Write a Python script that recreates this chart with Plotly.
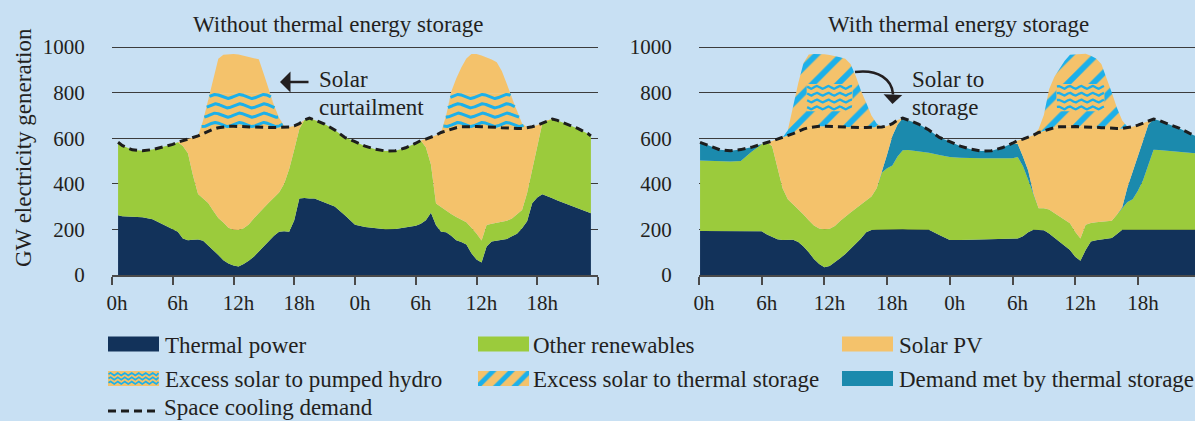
import numpy as np
import plotly.graph_objects as go

# ------------------------------------------------------------------ data (GW)
# hours of the two-day profile at which values were read
hours_a = [0.6, 1, 2, 3, 4, 5, 6,
           6.5, 7, 7.5, 8, 8.5, 9, 9.5, 10, 10.5, 11, 11.5, 12, 12.5, 13, 13.5,
           14, 14.5, 15, 15.5, 16, 16.5, 17, 17.5, 18, 18.5, 19, 19.5,
           20, 21, 22, 23, 24, 25, 26, 27, 28, 29, 30,
           30.5, 31, 31.5, 32, 32.5, 33, 33.5, 34, 34.5, 35, 35.5, 36, 36.5,
           37, 37.5, 38, 38.5, 39, 39.5, 40, 40.5, 41, 41.5, 42, 42.5, 43, 43.5,
           44, 45, 46, 47, 47.3]
hours_b = [0.1, 1, 2, 3, 4, 5, 6,
           6.5, 7, 7.5, 8, 8.5, 9, 9.5, 10, 10.5, 11, 11.5, 12, 12.5, 13, 13.5,
           14, 14.5, 15, 15.5, 16, 16.5, 17, 17.5, 18, 18.5, 19, 19.5,
           20, 21, 22, 23, 24, 25, 26, 27, 28, 29, 30,
           30.5, 31, 31.5, 32, 32.5, 33, 33.5, 34, 34.5, 35, 35.5, 36, 36.5,
           37, 37.5, 38, 38.5, 39, 39.5, 40, 40.5, 41, 41.5, 42, 42.5, 43, 43.5,
           44, 45, 46, 47, 47.5]

demand_gw = [582, 568, 549, 545, 550, 560, 573,
             582, 588, 596, 603, 610, 620, 630, 640, 646, 650, 652, 652, 651, 650, 648,
             647, 647, 647, 647, 647, 647, 647, 649, 654, 664, 680, 688,
             680, 662, 636, 603, 585, 565, 552, 544, 545, 558, 578,
             590, 596, 603, 613, 625, 633, 640, 646, 650, 651, 651, 651, 650,
             650, 649, 648, 646, 644, 643, 643, 643, 645, 650, 657, 666, 678, 684,
             678, 662, 643, 620, 610]

# --- without thermal energy storage
thermal_a = [262, 258, 256, 253, 245, 222, 200,
             190, 160, 152, 155, 156, 150, 130, 110, 88, 65, 50, 42, 37, 48, 62,
             80, 104, 127, 150, 172, 190, 192, 190, 240, 336, 338, 336,
             335, 318, 300, 262, 220, 211, 205, 201, 202, 208, 216,
             225, 240, 273, 218, 190, 188, 172, 152, 145, 134, 95, 68, 55,
             125, 147, 150, 153, 158, 170, 181, 205, 236, 315, 340, 354, 347, 337,
             327, 309, 292, 276, 271]
renew_a = [320, 310, 293, 292, 305, 338, 373,
           392, 406, 382, 281, 199, 185, 186, 172, 162, 165, 157, 157, 160, 157, 160,
           168, 169, 168, 168, 168, 172, 208, 275, 310, 304, 342, 352,
           345, 344, 336, 341, 365, 354, 347, 343, 343, 350, 362,
           365, 320, 212, 96, 108, 94, 96, 102, 98, 97, 112, 114, 96,
           94, 78, 80, 81, 80, 78, 86, 80, 124, 148, 230, 312, 331, 347,
           351, 353, 351, 344, 339]
solar_a = [0, 0, 0, 0, 0, 0, 0,
           0, 22, 62, 167, 255, 285, 314, 358, 396, 420, 445, 453, 454, 445, 426,
           399, 374, 352, 329, 307, 285, 247, 184, 104, 24, 0, 0,
           0, 0, 0, 0, 0, 0, 0, 0, 0, 0, 0,
           0, 36, 118, 299, 327, 351, 372, 392, 407, 420, 444, 469, 499,
           431, 424, 418, 412, 406, 395, 376, 358, 285, 187, 87, 0, 0, 0,
           0, 0, 0, 0, 0]
hydro_a = [0, 0, 0, 0, 0, 0, 0,
           0, 0, 0, 0, 0, 58, 138, 155, 149, 145, 143, 143, 144, 145, 147,
           148, 148, 148, 148, 98, 43, 8, 0, 0, 0, 0, 0,
           0, 0, 0, 0, 0, 0, 0, 0, 0, 0, 0,
           0, 0, 0, 0, 0, 67, 155, 149, 145, 144, 144, 144, 145,
           145, 146, 147, 149, 151, 132, 75, 22, 3, 0, 0, 0, 0, 0,
           0, 0, 0, 0, 0]
curtail_a = [0, 0, 0, 0, 0, 0, 0,
             0, 0, 0, 0, 0, 0, 0, 63, 153, 171, 173, 174, 172, 167, 161,
             156, 151, 85, 15, 0, 0, 0, 0, 0, 0, 0, 0,
             0, 0, 0, 0, 0, 0, 0, 0, 0, 0, 0,
             0, 0, 0, 0, 0, 0, 9, 67, 115, 155, 174, 174, 168,
             160, 150, 138, 100, 43, 0, 0, 0, 0, 0, 0, 0, 0, 0,
             0, 0, 0, 0, 0]

# --- with thermal energy storage
thermal_b = [193, 193, 193, 193, 193, 193, 192,
             178, 166, 157, 154, 154, 155, 145, 125, 100, 70, 48, 34, 40, 55, 73,
             92, 115, 138, 160, 188, 197, 199, 200, 200, 201, 201, 201,
             200, 199, 199, 175, 153, 154, 155, 156, 157, 158, 159,
             160, 170, 188, 198, 198, 196, 182, 163, 146, 128, 110, 80, 62,
             110, 147, 152, 156, 159, 162, 180, 198, 198, 198, 198, 198, 198, 198,
             198, 198, 198, 198, 198]
renew_b = [309, 307, 306, 305, 307, 347, 381,
           404, 399, 313, 226, 178, 155, 144, 140, 140, 147, 156, 167, 163, 160, 164,
           162, 159, 154, 150, 139, 147, 181, 250, 268, 279, 319, 346,
           348, 343, 337, 351, 364, 360, 357, 356, 355, 354, 353,
           358, 308, 230, 153, 95, 97, 105, 109, 112, 115, 117, 110, 98,
           110, 81, 79, 77, 77, 76, 85, 97, 122, 134, 172, 219, 287, 351,
           350, 346, 342, 338, 336]
storage_b = [80, 68, 50, 47, 50, 20, 0,
             0, 0, 0, 0, 0, 0, 0, 0, 0, 0, 0, 0, 0, 0, 0,
             0, 0, 0, 0, 0, 0, 0, 0, 60, 130, 140, 141,
             132, 120, 100, 77, 68, 51, 40, 32, 33, 46, 66,
             57, 42, 40, 8, 0, 0, 0, 0, 0, 0, 0, 0, 0,
             0, 0, 0, 0, 0, 0, 0, 2, 65, 118, 150, 173, 175, 135,
             130, 118, 103, 84, 76]
solar_b = [0, 0, 0, 0, 0, 0, 0,
           0, 23, 126, 223, 278, 310, 341, 375, 406, 433, 448, 451, 448, 435, 411,
           393, 373, 355, 337, 320, 303, 267, 199, 126, 54, 20, 0,
           0, 0, 0, 0, 0, 0, 0, 0, 0, 0, 0,
           15, 76, 145, 254, 332, 340, 353, 374, 392, 408, 424, 461, 490,
           430, 421, 417, 413, 408, 405, 378, 346, 260, 200, 137, 76, 18, 0,
           0, 0, 0, 0, 0]
excess_b = [0, 0, 0, 0, 0, 0, 0,
            0, 0, 0, 0, 25, 125, 212, 290, 321, 319, 318, 316, 314, 311, 307,
            301, 278, 226, 161, 108, 53, 18, 0, 0, 0, 0, 0,
            0, 0, 0, 0, 0, 0, 0, 0, 0, 0, 0,
            0, 0, 0, 0, 15, 69, 175, 222, 255, 289, 315, 317, 319,
            320, 313, 302, 279, 222, 157, 89, 35, 5, 0, 0, 0, 0, 0,
            0, 0, 0, 0, 0]
# pumped-hydro share shown as a block inside the storage peaks (hours, GW)
hydro_block_b_hours = [(10.3, 14.7), (34.2, 38.8)]
hydro_block_b_gw = (718, 838)

tick_hours = [0, 6, 12, 18, 24, 30, 36, 42, 48]
tick_labels = ["0h", "6h", "12h", "18h", "0h", "6h", "12h", "18h", ""]
y_ticks = [0, 200, 400, 600, 800, 1000]

# ------------------------------------------------------------------ style
FIG_W, FIG_H = 1195, 421
BG = "#c8e0f3"
NAVY = "#12325a"
GREEN = "#9bcb3c"
ORANGE = "#f4c26b"
TEAL = "#1b8aad"
CYAN = "#1cb0ea"
INK = "#231f20"
GRID = "#3c3c3c"
AXIS = "#4a4a4a"
FONT = "Liberation Serif"
DASH = "8px,5px"
TXT = 23

PX_PER_GW = 0.228
Y0_PX = 275
Y_MAX = 1010
y_dom = [(FIG_H - Y0_PX) / FIG_H, (FIG_H - (Y0_PX - Y_MAX * PX_PER_GW)) / FIG_H]
xa_dom = [112 / FIG_W, 598 / FIG_W]
xb_dom = [699 / FIG_W, 1.0]
xb_max = (FIG_W - 699) / 10.45

fig = go.Figure()


def area(x, y, color, group, xa, ya, pattern=None):
    fig.add_trace(go.Scatter(
        x=x, y=y, mode="lines", stackgroup=group, line=dict(width=0, color=color),
        fillcolor=color, fillpattern=pattern, xaxis=xa, yaxis=ya,
        showlegend=False, hoverinfo="skip"))


def wave_texture(x_lo, x_hi, levels, amp, period, step):
    """Wavy-line fill texture (decoration only)."""
    xs = np.arange(x_lo, x_hi + step / 2, step)
    return xs, [lvl + amp * np.sin(2 * np.pi * xs / period) for lvl in levels]


def add_waves(xs, ys_list, width, xa, ya, keep=None):
    X, Y = [], []
    for ys in ys_list:
        for xv, yv in zip(xs, ys):
            ok = True if keep is None else keep(xv, yv)
            X.append(float(xv) if ok else None)
            Y.append(float(yv) if ok else None)
        X.append(None)
        Y.append(None)
    fig.add_trace(go.Scatter(x=X, y=Y, mode="lines", line=dict(color=CYAN, width=width),
                             connectgaps=False, xaxis=xa, yaxis=ya, showlegend=False, hoverinfo="skip"))


# ---- left panel: without thermal energy storage
area(hours_a, thermal_a, NAVY, "a", "x", "y")
area(hours_a, renew_a, GREEN, "a", "x", "y")
area(hours_a, solar_a, ORANGE, "a", "x", "y")
area(hours_a, hydro_a, ORANGE, "a", "x", "y")
area(hours_a, curtail_a, ORANGE, "a", "x", "y")

top_a = np.sum([thermal_a, renew_a, solar_a, hydro_a, curtail_a], axis=0)
exc_a = np.array(hydro_a) + np.array(curtail_a)
xs, ys = wave_texture(0, 48, [660, 701, 742, 783], 9, 2.4, 0.03)
add_waves(xs, ys, 3, "x", "y",
          keep=lambda xv, yv: np.interp(xv, hours_a, exc_a) > 1 and yv < np.interp(xv, hours_a, top_a) - 3)

fig.add_trace(go.Scatter(x=hours_a, y=demand_gw, mode="lines",
                         line=dict(color="#1d1d1d", width=3, dash=DASH),
                         xaxis="x", yaxis="y", showlegend=False, hoverinfo="skip"))

# ---- right panel: with thermal energy storage
area(hours_b, thermal_b, NAVY, "b", "x2", "y2")
area(hours_b, renew_b, GREEN, "b", "x2", "y2")
area(hours_b, storage_b, TEAL, "b", "x2", "y2")
area(hours_b, solar_b, ORANGE, "b", "x2", "y2")
area(hours_b, excess_b, ORANGE, "b", "x2", "y2",
     pattern=dict(shape="/", fgcolor=CYAN, bgcolor=ORANGE, size=18, solidity=0.32, fillmode="replace"))

lo, hi = hydro_block_b_gw
for (h0, h1) in hydro_block_b_hours:
    fig.add_trace(go.Scatter(x=[h0, h1, h1, h0, h0], y=[lo, lo, hi, hi, lo], mode="lines",
                             fill="toself", fillcolor=ORANGE, line=dict(width=0),
                             xaxis="x2", yaxis="y2", showlegend=False, hoverinfo="skip"))
    gap = (hi - lo) / 4
    xs, ys = wave_texture(h0 + 0.05, h1 - 0.05, [lo + gap * (k + 0.5) for k in range(4)], 6, 1.1, 0.03)
    add_waves(xs, ys, 2.3, "x2", "y2")

fig.add_trace(go.Scatter(x=hours_b, y=demand_gw, mode="lines",
                         line=dict(color="#1d1d1d", width=3, dash=DASH),
                         xaxis="x2", yaxis="y2", showlegend=False, hoverinfo="skip"))

# ---- custom legend (drawn on a pixel-mapped helper axis)
SW_W, SW_H = 51, 15
col_x = [108, 478, 842]
text_x = [163, 531, 897]
row_y = [344, 378.5, 411]
legend_rows = [
    [("Thermal power", NAVY), ("Other renewables", GREEN), ("Solar PV", ORANGE)],
    [("Excess solar to pumped hydro", "waves"), ("Excess solar to thermal storage", "stripes"),
     ("Demand met by thermal storage", TEAL)],
    [("Space cooling demand", "dash")],
]
shapes = []
annotations = []
for r, row in enumerate(legend_rows):
    for c, (label_text, kind) in enumerate(row):
        x0, yc = col_x[c], row_y[r]
        y0, y1 = yc - SW_H / 2, yc + SW_H / 2
        if kind == "dash":
            shapes.append(dict(type="line", xref="x3", yref="y3", x0=x0, x1=x0 + SW_W + 1, y0=yc, y1=yc,
                               line=dict(color="#1d1d1d", width=3, dash=DASH)))
        elif kind in ("waves", "stripes"):
            pat = None
            if kind == "stripes":
                pat = dict(shape="/", fgcolor=CYAN, bgcolor=ORANGE, size=13, solidity=0.38, fillmode="replace")
            fig.add_trace(go.Scatter(x=[x0, x0 + SW_W, x0 + SW_W, x0, x0], y=[y0, y0, y1, y1, y0],
                                     mode="lines", fill="toself", fillcolor=ORANGE, fillpattern=pat,
                                     line=dict(width=0), xaxis="x3", yaxis="y3",
                                     showlegend=False, hoverinfo="skip"))
            if kind == "waves":
                xs, ys = wave_texture(x0 + 0.5, x0 + SW_W - 0.5, [y0 + 3.2, yc, y1 - 3.2], 1.4, 7, 0.25)
                add_waves(xs, ys, 1.7, "x3", "y3")
        else:
            shapes.append(dict(type="rect", xref="x3", yref="y3", x0=x0, x1=x0 + SW_W, y0=y0, y1=y1,
                               fillcolor=kind, line=dict(width=0), layer="above"))
        if r == len(legend_rows) - 1:
            # last row sits on the bottom edge of the figure: anchor its box to the edge
            annotations.append(dict(text=label_text, x=text_x[c], y=FIG_H, xref="x3", yref="y3",
                                    xanchor="left", yanchor="bottom", borderpad=0, showarrow=False,
                                    font=dict(family=FONT, size=TXT, color=INK)))
        else:
            annotations.append(dict(text=label_text, x=text_x[c], y=yc + 1, xref="x3", yref="y3",
                                    xanchor="left", yanchor="middle", showarrow=False,
                                    font=dict(family=FONT, size=TXT, color=INK)))


def label(text, x, y, size=TXT, xanchor="center", angle=0):
    annotations.append(dict(text=text, x=x, y=y, xref="x3", yref="y3", xanchor=xanchor,
                            yanchor="middle", showarrow=False, textangle=angle,
                            font=dict(family=FONT, size=size, color=INK)))


label("Without thermal energy storage", 338, 24)
label("With thermal energy storage", 958, 24)
label("GW electricity generation", 23, 148, angle=-90)
label("Solar", 317, 79, xanchor="left")
label("curtailment", 317, 107, xanchor="left")
label("Solar to", 910, 79, xanchor="left")
label("storage", 910, 107, xanchor="left")

# straight arrow to the curtailed solar
annotations.append(dict(text="", x=280, y=82, xref="x3", yref="y3", ax=30, ay=0,
                        showarrow=True, arrowhead=1, arrowsize=1.35, arrowwidth=2.6, arrowcolor=INK))
# curved arrow: solar to storage
shapes.append(dict(type="path", xref="x3", yref="y3", path="M 855 72 C 879 69, 892 80, 893 94",
                   line=dict(color=INK, width=2.6)))
annotations.append(dict(text="", x=892.5, y=104, xref="x3", yref="y3", ax=0.5, ay=-11,
                        showarrow=True, arrowhead=1, arrowsize=1.2, arrowwidth=2.6, arrowcolor=INK))

xcommon = dict(showline=True, linecolor=AXIS, linewidth=1.5, ticks="outside", ticklen=8, tickwidth=1.5,
               tickcolor=AXIS, showgrid=False, zeroline=False, tickvals=tick_hours, ticktext=tick_labels,
               tickfont=dict(family=FONT, size=21, color=INK), ticklabelshift=5, fixedrange=True,
               automargin=False)
ycommon = dict(range=[0, Y_MAX], domain=y_dom, tickvals=y_ticks, showgrid=True, gridcolor=GRID, gridwidth=1,
               zeroline=False, showline=False, ticks="outside", ticklen=22, tickcolor="rgba(0,0,0,0)",
               tickfont=dict(family=FONT, size=21, color=INK), fixedrange=True, automargin=False)

fig.update_layout(
    width=FIG_W, height=FIG_H, autosize=False,
    margin=dict(l=0, r=0, t=0, b=0, pad=0),
    paper_bgcolor=BG, plot_bgcolor="rgba(0,0,0,0)",
    showlegend=False,
    font=dict(family=FONT, color=INK, size=21),
    xaxis=dict(domain=xa_dom, range=[0, 48], anchor="y", **xcommon),
    yaxis=dict(anchor="x", **ycommon),
    xaxis2=dict(domain=xb_dom, range=[0, xb_max], anchor="y2", **xcommon),
    yaxis2=dict(anchor="x2", **ycommon),
    xaxis3=dict(domain=[0, 1], range=[0, FIG_W], anchor="y3", visible=False, fixedrange=True),
    yaxis3=dict(domain=[0, 1], range=[FIG_H, 0], anchor="x3", visible=False, fixedrange=True),
    shapes=shapes,
    annotations=annotations,
)

fig.write_html("out.html", config={"displayModeBar": False},
               post_script="document.body.style.margin='0';document.body.style.padding='0';"
                           "document.body.style.overflow='hidden';"
                           "document.documentElement.style.background='" + BG + "';")
